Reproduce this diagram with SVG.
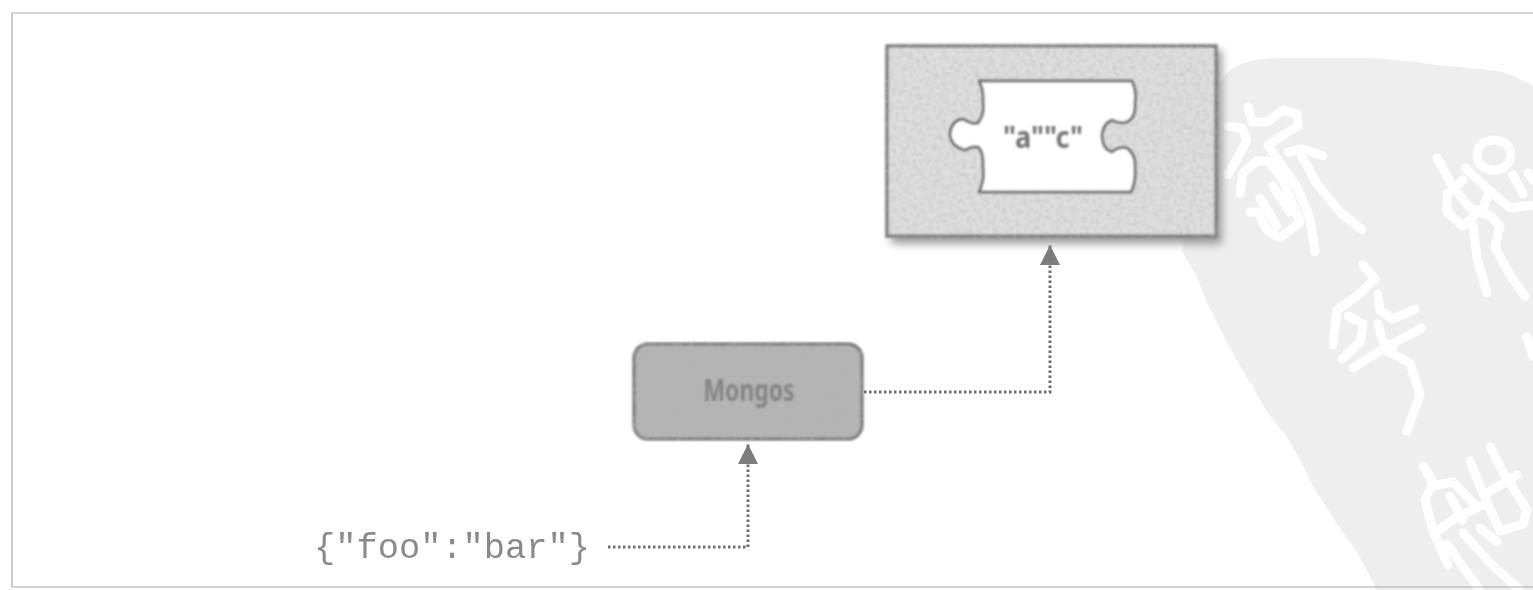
<svg xmlns="http://www.w3.org/2000/svg" width="1533" height="590" viewBox="0 0 1533 590">
<style>
.wm{fill:none;stroke:#fff;stroke-width:9;stroke-linecap:round;stroke-linejoin:round}
.conn{fill:none;stroke:#6e6e6e;stroke-width:3;stroke-dasharray:2.5 2.5}
.box{stroke:#7c7c7c;stroke-width:3.5}
.lbl{font-family:"Noto Sans","Liberation Sans",sans-serif;font-weight:700;text-anchor:middle}
</style>
<defs>
<marker id="arrow" markerUnits="userSpaceOnUse" markerWidth="22" markerHeight="22" refX="20" refY="10.5" orient="auto"><path d="M0 0.5L20 10.5L0 20.5Z" fill="#7c7c7c"/></marker>
<filter id="soft" x="-5%" y="-5%" width="110%" height="110%"><feGaussianBlur stdDeviation="0.8"/></filter>
<filter id="faint" x="-5%" y="-5%" width="110%" height="110%"><feGaussianBlur stdDeviation="0.4"/></filter>
<filter id="shadow" x="-10%" y="-10%" width="120%" height="120%"><feGaussianBlur stdDeviation="4"/></filter>
<filter id="grain" x="-3%" y="-3%" width="106%" height="106%">
<feTurbulence type="fractalNoise" baseFrequency="0.3" numOctaves="2" seed="4" result="n"/>
<feColorMatrix in="n" type="matrix" values="0 0 0 0 .45 0 0 0 0 .45 0 0 0 0 .45 1.6 0 0 0 -.66" result="c"/>
<feComposite in="c" in2="SourceAlpha" operator="in" result="g"/>
<feMerge result="m"><feMergeNode in="SourceGraphic"/><feMergeNode in="g"/></feMerge>
<feGaussianBlur in="m" stdDeviation="0.8"/>
</filter>
</defs>
<rect width="1533" height="590" fill="#fff"/>
<g id="watermark">
<path fill="#eee" d="M1205 100L1230 70Q1240 64 1250 61Q1265 58 1283 58L1370 58Q1405 60 1437 65Q1475 68 1503 72Q1520 78 1533 86L1533 590L1377 590L1357 552L1337 524L1313 486L1303 465L1287 437L1267 412L1253 387L1240 366L1227 342L1207 303L1198 279L1182 251Z"/>
<g class="wm">
<path d="M1248 107L1252 122L1267 122L1283 110L1297 114L1298 126L1283 135L1268 145L1277 159L1297 187L1310 219L1315 252"/>
<path d="M1228 126L1242 128L1247 140L1237 159L1228 175"/>
<path d="M1240 193L1243 173L1257 161L1268 161L1283 180L1300 222L1280 238L1267 230L1258 212L1250 212"/>
<path d="M1288 152L1303 149L1323 156M1302 156L1317 184L1340 212L1362 230M1260 198L1277 226M1273 186L1290 212"/>
<path d="M1363 265L1375 279L1357 296L1337 310L1333 345M1348 316L1363 324L1360 342L1342 359M1378 294L1380 310L1393 319L1415 309M1378 324L1383 342L1393 349M1353 368L1383 349L1422 328M1387 351L1410 363L1420 395L1407 431"/>
<ellipse cx="1494" cy="155" rx="17" ry="15"/>
<path d="M1437 158L1453 187L1470 208L1490 216L1500 226L1495 247L1510 275L1525 296M1465 168L1490 191L1483 208L1463 226L1447 212L1447 194L1463 180M1473 226L1477 258L1487 293M1490 191L1510 208L1533 205M1513 175L1523 194M1528 173L1533 180M1527 337L1533 356"/>
<path d="M1423 466L1433 482L1425 500L1433 531L1448 565M1433 486L1453 482L1473 503M1437 531L1457 517L1487 503M1470 461L1480 486L1500 531L1523 524L1527 510L1503 472L1490 447M1487 493L1517 475M1447 544L1463 567L1480 590M1463 533L1490 563L1520 590M1450 496L1463 520M1480 528L1497 542"/>
</g>
</g>
<g id="frame" fill="none" stroke="#aaa" stroke-width="1.2"><path d="M1533 13L12 13L12 587L1533 587"/></g>
<g id="connectors" filter="url(#faint)">
<path class="conn" d="M608 547L748 547L748 444" marker-end="url(#arrow)"/>
<path class="conn" d="M864 392L1050 392L1050 245" marker-end="url(#arrow)"/>
</g>
<g id="chunk">
<rect x="891" y="50" width="331" height="194" fill="#777" opacity=".7" filter="url(#shadow)"/>
<rect class="box" x="887" y="46" width="329" height="190" fill="#e0e0e0" filter="url(#grain)"/>
<path fill="#fff" stroke="#777" stroke-width="3" stroke-linejoin="round" filter="url(#soft)" d="M979 81L1132 81Q1137 92 1135 102Q1136 118 1127 122Q1119 124 1112 120Q1102 124 1102 137Q1103 150 1112 152Q1120 146 1127 148Q1136 155 1135 167Q1136 182 1131 192L979 192Q985 180 983 167Q984 152 978 147Q972 146 965 150Q950 146 950 133Q952 120 963 119Q972 125 978 123Q985 114 983 102Q984 90 979 81Z"/>
<text class="lbl" x="1043" y="148" font-size="30" fill="#777" textLength="80" lengthAdjust="spacingAndGlyphs" filter="url(#soft)">"a""c"</text>
</g>
<g id="mongos">
<rect class="box" x="634" y="344" width="228" height="95" rx="14" fill="#b4b4b4" filter="url(#grain)"/>
<text class="lbl" x="749" y="401" font-size="30" fill="#858585" textLength="91" lengthAdjust="spacingAndGlyphs" filter="url(#soft)">Mongos</text>
</g>
<g id="doc">
<text x="314" y="558" font-family="'Liberation Mono',monospace" font-size="35" fill="#8a8a8a" textLength="276" lengthAdjust="spacingAndGlyphs" filter="url(#faint)">{"foo":"bar"}</text>
</g>
</svg>
